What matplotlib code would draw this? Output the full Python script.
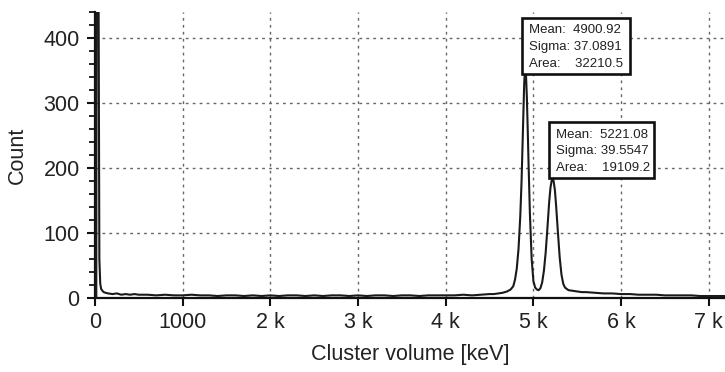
#!/usr/bin/env python3

import matplotlib
matplotlib.use('Agg')
import matplotlib.pyplot as plt
from matplotlib.patches import Rectangle
from matplotlib.ticker import MultipleLocator, FixedLocator

plt.rcParams['font.family'] = ['Liberation Sans', 'DejaVu Sans']

# spectrum: cluster volume [keV] vs count
energy = [0, 15, 22, 28, 40, 50, 60, 70, 85, 100, 120, 150, 200, 250, 300,
          350, 400, 450, 500, 600, 700, 800, 900, 1000, 1100, 1200, 1300,
          1400, 1500, 1600, 1700, 1800, 1900, 2000, 2100, 2200, 2300, 2400,
          2500, 2600, 2700, 2800, 2900, 3000, 3100, 3200, 3300, 3400, 3500,
          3600, 3700, 3800, 3900, 4000, 4100, 4200, 4300, 4400, 4500, 4550,
          4600, 4650, 4700, 4740, 4770, 4790, 4810, 4830, 4850, 4865, 4875,
          4885, 4895, 4905, 4915, 4925, 4935, 4945, 4960, 4980, 5000, 5020,
          5040, 5060, 5080, 5100, 5120, 5140, 5160, 5180, 5195, 5210, 5220,
          5230, 5245, 5260, 5280, 5300, 5320, 5340, 5360, 5400, 5450, 5500,
          5550, 5600, 5700, 5800, 5900, 6000, 6100, 6200, 6300, 6400, 6500,
          6600, 6700, 6800, 6900, 7000, 7100, 7180]
count = [0, 0, 900, 900, 520, 60, 22, 14, 11, 9, 8, 7, 6, 7, 5,
         6, 5, 6, 5, 5, 4, 5, 4, 4, 5, 4, 4,
         3, 4, 4, 3, 4, 3, 4, 3, 4, 4, 3,
         4, 3, 4, 4, 3, 4, 3, 4, 4, 3, 4,
         4, 3, 4, 4, 4, 4, 5, 4, 5, 6, 6,
         7, 8, 10, 13, 18, 28, 45, 75, 125, 180, 230,
         280, 330, 355, 345, 310, 260, 205, 130, 60, 26, 16,
         13, 12, 15, 24, 42, 70, 108, 148, 170, 182, 184,
         180, 166, 140, 100, 62, 36, 22, 16, 12, 11, 10,
         9, 9, 8, 7, 7, 6, 6, 5, 5, 5, 4,
         4, 4, 4, 3, 3, 3, 3]

x_ticks = [0, 1000, 2000, 3000, 4000, 5000, 6000, 7000]
x_labels = ['0', '1000', '2 k', '3 k', '4 k', '5 k', '6 k', '7 k']
y_ticks = [0, 100, 200, 300, 400]

# fit results shown in the boxes
fits = [
    {'mean': '4900.92', 'sigma': '37.0891', 'area': '32210.5'},
    {'mean': '5221.08', 'sigma': '39.5547', 'area': '19109.2'},
]
# box corners in data units (x0, x1, y0, y1)
boxes = [(4875, 6100, 345, 431), (5180, 6372, 185, 270)]

fig = plt.figure(figsize=(7.25, 3.72), dpi=100)
ax = fig.add_axes([0.131, 0.199, 0.869, 0.769])

ax.plot(energy, count, color='#1a1a1a', lw=1.5, zorder=3)

ax.set_xlim(0, 7185)
ax.set_ylim(0, 440)

ax.xaxis.set_major_locator(FixedLocator(x_ticks))
ax.set_xticklabels(x_labels)
ax.set_yticks(y_ticks)
ax.yaxis.set_minor_locator(MultipleLocator(20))

ax.grid(True, which='major', color='#666666', linestyle=(0, (2, 3)), lw=1.0)

for s in ['top', 'right']:
    ax.spines[s].set_visible(False)
for s in ['left', 'bottom']:
    ax.spines[s].set_linewidth(1.6)
    ax.spines[s].set_color('#111111')

ax.tick_params(axis='both', which='major', labelsize=15.5, length=6, width=1.5,
               direction='out', colors='#111111', labelcolor='#222222')
ax.tick_params(axis='x', which='major', pad=4)
ax.tick_params(axis='y', which='major', pad=5)
ax.tick_params(axis='y', which='minor', length=4, width=1.2, direction='out')

ax.set_xlabel('Cluster volume [keV]', fontsize=15.5, color='#222222', labelpad=8)
ax.set_ylabel('Count', fontsize=15.5, color='#222222', labelpad=11)

for fit, (x0, x1, y0, y1) in zip(fits, boxes):
    ax.add_patch(Rectangle((x0, y0), x1 - x0, y1 - y0, facecolor='white',
                           edgecolor='#111111', lw=1.9, zorder=5))
    rows = ['Mean:  ' + fit['mean'], 'Sigma: ' + fit['sigma'],
            'Area:    ' + fit['area']]
    h = y1 - y0
    for i, row in enumerate(rows):
        yy = y1 - h * (0.22 + 0.30 * i)
        ax.text(x0 + 75, yy, row, fontsize=9.5, ha='left', va='center',
                color='#222222', zorder=6)

fig.savefig('out.png', dpi=100)
